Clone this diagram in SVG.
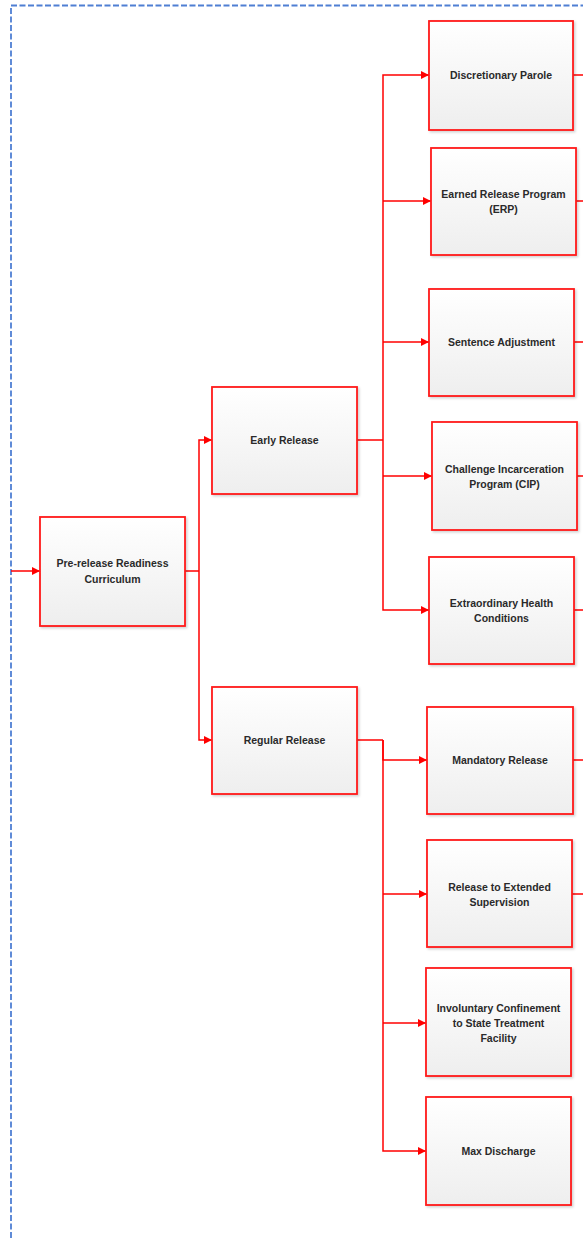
<svg xmlns="http://www.w3.org/2000/svg" width="583" height="1238" viewBox="0 0 583 1238">
  <defs>
    <linearGradient id="boxFill" x1="0" y1="0" x2="0" y2="1">
      <stop offset="0" stop-color="#ffffff"/>
      <stop offset="1" stop-color="#eeeeee"/>
    </linearGradient>
    <filter id="shadow" x="-10%" y="-10%" width="125%" height="125%">
      <feDropShadow dx="1.5" dy="1.5" stdDeviation="1" flood-color="#000" flood-opacity="0.18"/>
    </filter>
    <marker id="arrow" viewBox="0 0 10 10" refX="10" refY="5" markerWidth="9" markerHeight="8" markerUnits="userSpaceOnUse" orient="auto">
      <path d="M0,0 L10,5 L0,10 z" fill="#ff0000"/>
    </marker>
  </defs>
  <style>
    .box { fill: url(#boxFill); stroke: #ff1a1a; stroke-width: 1.8; filter: url(#shadow); }
    .lbl { font-family: "Liberation Sans", Arial, sans-serif; font-size: 10.5px; font-weight: bold; fill: #2a2a2a; text-anchor: middle; }
    .wire { fill: none; stroke: #ff0000; stroke-width: 1.5; }
    .frame { fill: none; stroke: #4f7fd3; stroke-width: 1.8; stroke-dasharray: 6 2.5; }
  </style>

  <rect width="583" height="1238" fill="#ffffff"/>

  <!-- dashed enclosing frame -->
  <path class="frame" d="M11,1238 V5.5 H583"/>

  <!-- connectors -->
  <g id="connectors">
    <path class="wire" marker-end="url(#arrow)" d="M11,571 H40"/>
    <path class="wire" d="M185,571 H199"/>
    <path class="wire" marker-end="url(#arrow)" d="M199,571 V440 H212"/>
    <path class="wire" marker-end="url(#arrow)" d="M199,571 V740 H212"/>

    <path class="wire" d="M357,440 H383"/>
    <path class="wire" marker-end="url(#arrow)" d="M383,440 V75 H429"/>
    <path class="wire" marker-end="url(#arrow)" d="M383,201 H431"/>
    <path class="wire" marker-end="url(#arrow)" d="M383,342 H429"/>
    <path class="wire" marker-end="url(#arrow)" d="M383,476 H432"/>
    <path class="wire" marker-end="url(#arrow)" d="M383,440 V610 H429"/>

    <path class="wire" d="M357,740 H383"/>
    <path class="wire" marker-end="url(#arrow)" d="M383,740 V760 H427"/>
    <path class="wire" marker-end="url(#arrow)" d="M383,894 H427"/>
    <path class="wire" marker-end="url(#arrow)" d="M383,1023 H426"/>
    <path class="wire" marker-end="url(#arrow)" d="M383,740 V1151 H426"/>

    <!-- outgoing leads to the next stage -->
    <path class="wire" d="M573,75 H583"/>
    <path class="wire" d="M576,201 H583"/>
    <path class="wire" d="M574,342 H583"/>
    <path class="wire" d="M577,476 H583"/>
    <path class="wire" d="M574,610 H583"/>
    <path class="wire" d="M573,760 H583"/>
    <path class="wire" d="M572,894 H583"/>
  </g>

  <g id="prerelease">
    <rect class="box" x="40" y="517" width="145" height="109"/>
    <text class="lbl" x="112.5" y="567">Pre-release Readiness</text>
    <text class="lbl" x="112.5" y="583">Curriculum</text>
  </g>

  <g id="early-release">
    <rect class="box" x="212" y="387" width="145" height="107"/>
    <text class="lbl" x="284.5" y="444">Early Release</text>
  </g>

  <g id="regular-release">
    <rect class="box" x="212" y="687" width="145" height="107"/>
    <text class="lbl" x="284.5" y="744">Regular Release</text>
  </g>

  <g id="discretionary-parole">
    <rect class="box" x="429" y="21" width="144" height="109"/>
    <text class="lbl" x="501" y="79">Discretionary Parole</text>
  </g>

  <g id="erp">
    <rect class="box" x="431" y="148" width="145" height="107"/>
    <text class="lbl" x="503.5" y="198">Earned Release Program</text>
    <text class="lbl" x="503.5" y="213">(ERP)</text>
  </g>

  <g id="sentence-adjustment">
    <rect class="box" x="429" y="289" width="145" height="107"/>
    <text class="lbl" x="501.5" y="346">Sentence Adjustment</text>
  </g>

  <g id="cip">
    <rect class="box" x="432" y="422" width="145" height="108"/>
    <text class="lbl" x="504.5" y="473">Challenge Incarceration</text>
    <text class="lbl" x="504.5" y="488">Program (CIP)</text>
  </g>

  <g id="extraordinary-health">
    <rect class="box" x="429" y="557" width="145" height="107"/>
    <text class="lbl" x="501.5" y="607">Extraordinary Health</text>
    <text class="lbl" x="501.5" y="622">Conditions</text>
  </g>

  <g id="mandatory-release">
    <rect class="box" x="427" y="707" width="146" height="107"/>
    <text class="lbl" x="500" y="764">Mandatory Release</text>
  </g>

  <g id="extended-supervision">
    <rect class="box" x="427" y="840" width="145" height="107"/>
    <text class="lbl" x="499.5" y="891">Release to Extended</text>
    <text class="lbl" x="499.5" y="906">Supervision</text>
  </g>

  <g id="involuntary-confinement">
    <rect class="box" x="426" y="968" width="145" height="108"/>
    <text class="lbl" x="498.5" y="1012">Involuntary Confinement</text>
    <text class="lbl" x="498.5" y="1027">to State Treatment</text>
    <text class="lbl" x="498.5" y="1042">Facility</text>
  </g>

  <g id="max-discharge">
    <rect class="box" x="426" y="1097" width="145" height="108"/>
    <text class="lbl" x="498.5" y="1155">Max Discharge</text>
  </g>
</svg>
